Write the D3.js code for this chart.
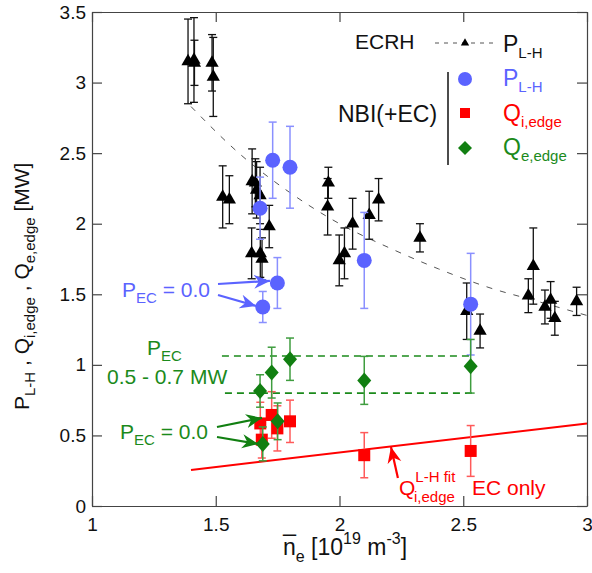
<!DOCTYPE html>
<html lang="en">
<head>
<meta charset="UTF-8">
<title>L-H threshold power vs density</title>
<script src="https://d3js.org/d3.v7.min.js"></script>
<style>
  body { margin: 0; background: white; }
  svg { display: block; font-family: "Liberation Sans", Arial, sans-serif; }
  .axis text { font-size: 19px; fill: #111; }
  .axis path, .axis line { stroke: #444; stroke-width: 1.2; }
</style>
</head>
<body>
<svg width="592" height="573"></svg>
<script>
// ---- data ----
const xTicks = [1, 1.5, 2, 2.5, 3];
const xTickLabels = ["1", "1.5", "2", "2.5", "3"];
const yTicks = [0, 0.5, 1, 1.5, 2, 2.5, 3, 3.5];
const yTickLabels = ["0", "0.5", "1", "1.5", "2", "2.5", "3", "3.5"];

// ECRH P_L-H (black triangles)
const ecrhN = [1.388, 1.412, 1.414, 1.485, 1.49, 1.528, 1.555, 1.647, 1.66, 1.665, 1.679, 1.716, 1.645, 1.68, 1.687,
               1.955, 1.952, 1.999, 2.02, 2.053, 2.12, 2.158, 2.325, 2.514, 2.568, 2.763, 2.783, 2.83, 2.853, 2.87, 2.958];
const ecrhP = [3.15, 3.16, 3.14, 3.14, 3.04, 2.19, 2.17, 2.30, 2.29, 2.24, 2.20, 1.98, 1.79, 1.79, 1.75,
               2.29, 2.12, 1.74, 1.79, 2.00, 2.06, 2.17, 1.90, 1.38, 1.24, 1.49, 1.70, 1.41, 1.46, 1.33, 1.45];
const ecrhErr = [0.30, 0.30, 0.16, 0.20, 0.28, 0.22, 0.17, 0.23, 0.17, 0.20, 0.20, 0.15, 0.18, 0.17, 0.15,
                 0.11, 0.20, 0.18, 0.18, 0.18, 0.17, 0.15, 0.10, 0.20, 0.12, 0.12, 0.27, 0.12, 0.13, 0.12, 0.10];

// ECRH fit curve (dashed)
const fitN = [1.4, 1.6, 1.8, 2.0, 2.2, 2.4, 2.6, 2.8, 3.0];
const fitP = [2.83, 2.49, 2.22, 2.00, 1.83, 1.68, 1.55, 1.45, 1.35];

// NBI P_L-H (blue circles)
const nbiN = [1.73, 1.80, 1.679, 1.749, 1.69, 2.10, 2.53];
const nbiP = [2.45, 2.40, 2.11, 1.58, 1.41, 1.74, 1.43];
const nbiErr = [0.27, 0.29, 0.22, 0.18, 0.11, 0.34, 0.36];

// NBI Q_i,edge (red squares)
const qiN = [1.68, 1.726, 1.749, 1.80, 1.686, 2.10, 2.53];
const qiQ = [0.585, 0.645, 0.55, 0.60, 0.47, 0.36, 0.39];
const qiErr = [0.15, 0.165, 0.16, 0.15, 0.13, 0.16, 0.18];

// NBI Q_e,edge (green diamonds)
const qeN = [1.679, 1.726, 1.80, 1.75, 1.69, 2.10, 2.53];
const qeQ = [0.815, 0.945, 1.04, 0.60, 0.44, 0.89, 0.99];
const qeErr = [0.115, 0.18, 0.15, 0.13, 0.12, 0.17, 0.19];

// Q_i,edge L-H fit, EC only (red line)
const qiFitN = [1.4, 3.0];
const qiFitQ = [0.255, 0.585];

// P_EC 0.5 - 0.7 MW band (green dashed)
const bandN = [1.525, 2.535];
const bandQ = [1.063, 0.80];

// annotation arrows [x0, y0, x1, y1] in data units
const blueArrows = [[1.509, 1.573, 1.719, 1.595], [1.509, 1.495, 1.663, 1.417]];
const greenArrows = [[1.505, 0.56, 1.687, 0.624], [1.505, 0.489, 1.671, 0.44]];
const redArrows = [[2.236, 0.198, 2.208, 0.418]];

const BLUE = "#5b63ff", BLUE_ERR = "#8a90ff";
const RED = "#ff0000", RED_ERR = "#ff5a5a";
const GREEN = "#117f11", GREEN_TXT = "#1b8a1b", GREEN_ERR = "#3f9d3f";

const svg = d3.select("svg"),
      margin = { top: 12, right: 5, bottom: 67, left: 92 },
      width = +svg.attr("width") - margin.left - margin.right,
      height = +svg.attr("height") - margin.top - margin.bottom,
      g = svg.append("g").attr("transform", `translate(${margin.left},${margin.top})`);

const x = d3.scaleLinear().domain([1, 3]).range([0, width]);
const y = d3.scaleLinear().domain([0, 3.5]).range([height, 0]);

// arrow marker
const defs = svg.append("defs");
[["arrBlue", BLUE], ["arrGreen", GREEN], ["arrRed", RED]].forEach(([id, c]) => {
  defs.append("marker").attr("id", id)
    .attr("viewBox", "-16 -8 18 16").attr("refX", 0).attr("refY", 0)
    .attr("markerWidth", 18).attr("markerHeight", 16).attr("markerUnits", "userSpaceOnUse")
    .attr("orient", "auto")
    .append("path").attr("d", "M0,0 L-16,-7 L-11,0 L-16,7 Z").attr("fill", c);
});

// axes (ticks pointing inward on all four sides)
g.append("g").attr("class", "axis")
  .attr("transform", `translate(0,${height})`)
  .call(d3.axisBottom(x).tickValues(xTicks).tickFormat((d, i) => xTickLabels[i])
        .tickSizeInner(-10).tickSizeOuter(0).tickPadding(12));
g.append("g").attr("class", "axis")
  .call(d3.axisTop(x).tickValues(xTicks).tickFormat("").tickSizeInner(-10).tickSizeOuter(0));
g.append("g").attr("class", "axis")
  .call(d3.axisLeft(y).tickValues(yTicks).tickFormat((d, i) => yTickLabels[i])
        .tickSizeInner(-10).tickSizeOuter(0).tickPadding(6));
g.append("g").attr("class", "axis")
  .attr("transform", `translate(${width},0)`)
  .call(d3.axisRight(y).tickValues(yTicks).tickFormat("").tickSizeInner(-10).tickSizeOuter(0));
g.selectAll(".axis .tick text").filter(function () { return this.textContent === ""; }).remove();

// helpers
function errorBars(sel, xs, ys, es, color, w) {
  const cap = 4;
  const grp = sel.append("g").attr("stroke", color).attr("stroke-width", w).attr("fill", "none");
  xs.forEach((xv, i) => {
    const cx = x(xv), top = y(ys[i] + es[i]), bot = y(ys[i] - es[i]);
    grp.append("line").attr("x1", cx).attr("x2", cx).attr("y1", top).attr("y2", bot);
    grp.append("line").attr("x1", cx - cap).attr("x2", cx + cap).attr("y1", top).attr("y2", top);
    grp.append("line").attr("x1", cx - cap).attr("x2", cx + cap).attr("y1", bot).attr("y2", bot);
  });
}
const diamond = (hw, hh) => `M0,${-hh} L${hw},0 L0,${hh} L${-hw},0 Z`;

// text with sub/superscripts, using relative dy so anchors act on the whole string
function rich(sel, x0, y0, parts, color, size, anchor) {
  const t = sel.append("text").attr("x", x0).attr("y", y0).attr("fill", color)
    .attr("font-size", size).attr("text-anchor", anchor || "start");
  let cur = 0;
  parts.forEach(p => {
    const off = p.dy || 0;
    t.append("tspan").attr("dy", off - cur)
      .attr("font-size", p.size || size).text(p.t);
    cur = off;
  });
  return t;
}
const sub = (t) => ({ t, dy: 6, size: 15 });
const sup = (t) => ({ t, dy: -11, size: 15 });

// dashed ECRH fit
g.append("path")
  .datum(fitN.map((n, i) => [n, fitP[i]]))
  .attr("d", d3.line().x(d => x(d[0])).y(d => y(d[1])).curve(d3.curveMonotoneX))
  .attr("fill", "none").attr("stroke", "#555").attr("stroke-width", 1).attr("stroke-dasharray", "6,8");

// ECRH triangles
errorBars(g, ecrhN, ecrhP, ecrhErr, "#111", 1.3);
g.append("g").selectAll("path").data(ecrhN).join("path")
  .attr("d", d3.symbol(d3.symbolTriangle, 76))
  .attr("transform", (d, i) => `translate(${x(d)},${y(ecrhP[i])})`)
  .attr("fill", "#000");

// NBI P_L-H
errorBars(g, nbiN, nbiP, nbiErr, BLUE_ERR, 1.5);
g.append("g").selectAll("circle").data(nbiN).join("circle")
  .attr("cx", d => x(d)).attr("cy", (d, i) => y(nbiP[i])).attr("r", 7.5)
  .attr("fill", BLUE);

// green band (P_EC 0.5-0.7 MW)
g.append("g").selectAll("line").data(bandQ).join("line")
  .attr("x1", (d, i) => x(bandN[0]) + (i ? 3 : 0)).attr("x2", x(bandN[1]))
  .attr("y1", d => y(d)).attr("y2", d => y(d))
  .attr("stroke", GREEN_TXT).attr("stroke-width", 1.6).attr("stroke-dasharray", "7,5");

// red fit line
g.append("line")
  .attr("x1", x(qiFitN[0])).attr("y1", y(qiFitQ[0]))
  .attr("x2", x(qiFitN[1])).attr("y2", y(qiFitQ[1]))
  .attr("stroke", RED).attr("stroke-width", 2);

// Q_i,edge
errorBars(g, qiN, qiQ, qiErr, RED_ERR, 1.5);
g.append("g").selectAll("rect").data(qiN).join("rect")
  .attr("x", d => x(d) - 6).attr("y", (d, i) => y(qiQ[i]) - 6)
  .attr("width", 12).attr("height", 12).attr("fill", RED);

// Q_e,edge
errorBars(g, qeN, qeQ, qeErr, GREEN_ERR, 1.5);
g.append("g").selectAll("path").data(qeN).join("path")
  .attr("d", diamond(7, 8))
  .attr("transform", (d, i) => `translate(${x(d)},${y(qeQ[i])})`)
  .attr("fill", GREEN);

// annotation arrows
function arrows(list, color, id) {
  g.append("g").selectAll("line").data(list).join("line")
    .attr("x1", d => x(d[0])).attr("y1", d => y(d[1]))
    .attr("x2", d => x(d[2])).attr("y2", d => y(d[3]))
    .attr("stroke", color).attr("stroke-width", 2.2)
    .attr("marker-end", `url(#${id})`);
}
arrows(blueArrows, BLUE, "arrBlue");
arrows(greenArrows, GREEN, "arrGreen");
arrows(redArrows, RED, "arrRed");

// annotation texts
rich(svg, 122, 297, [{ t: "P" }, sub("EC"), { t: " = 0.0" }], BLUE, 21);
rich(svg, 147, 355, [{ t: "P" }, sub("EC")], GREEN_TXT, 21);
rich(svg, 107, 384, [{ t: "0.5 - 0.7 MW" }], GREEN_TXT, 21);
rich(svg, 120, 439, [{ t: "P" }, sub("EC"), { t: " = 0.0" }], GREEN_TXT, 21);
rich(svg, 399, 495, [{ t: "Q" }, { t: "L-H fit", dy: -13, size: 15 }], RED, 21);
rich(svg, 414, 502, [{ t: "i,edge" }], RED, 15);
rich(svg, 472, 495, [{ t: "EC only" }], RED, 21);

// legend
const lg = svg.append("g");
rich(lg, 355, 49, [{ t: "ECRH" }], "#111", 21);
lg.append("line").attr("x1", 435).attr("x2", 497).attr("y1", 43).attr("y2", 43)
  .attr("stroke", "#555").attr("stroke-width", 1).attr("stroke-dasharray", "4,5");
lg.append("path").attr("d", d3.symbol(d3.symbolTriangle, 30))
  .attr("transform", "translate(465,43)").attr("fill", "#000");
rich(lg, 503, 52, [{ t: "P" }, sub("L-H")], "#111", 23);
lg.append("circle").attr("cx", 465).attr("cy", 79).attr("r", 7).attr("fill", BLUE);
rich(lg, 503, 86, [{ t: "P" }, sub("L-H")], BLUE, 23);
lg.append("rect").attr("x", 460).attr("y", 108).attr("width", 10).attr("height", 10).attr("fill", RED);
rich(lg, 503, 121, [{ t: "Q" }, sub("i,edge")], RED, 23);
lg.append("path").attr("d", diamond(7, 7)).attr("transform", "translate(465,148)").attr("fill", GREEN);
rich(lg, 503, 155, [{ t: "Q" }, sub("e,edge")], GREEN_TXT, 23);
rich(lg, 338, 122, [{ t: "NBI(+EC)" }], "#111", 23);
lg.append("line").attr("x1", 448).attr("x2", 448).attr("y1", 72).attr("y2", 165)
  .attr("stroke", "#111").attr("stroke-width", 1.5);

// axis titles
rich(svg, 345, 555, [{ t: "n\u0305" }, { t: "e", dy: 7, size: 16 }, { t: " [10" },
                     { t: "19", dy: -11, size: 16 }, { t: " m" }, { t: "-3", dy: -11, size: 16 }, { t: "]" }],
     "#111", 23, "middle");
const yl = svg.append("g").attr("transform", "translate(29,410) rotate(-90)");
rich(yl, 0, 0, [{ t: "P" }, sub("L-H"), { t: " ,  Q" }, sub("i,edge"), { t: " ,  Q" }, sub("e,edge"), { t: " [MW]" }],
     "#111", 21);
</script>
</body>
</html>
